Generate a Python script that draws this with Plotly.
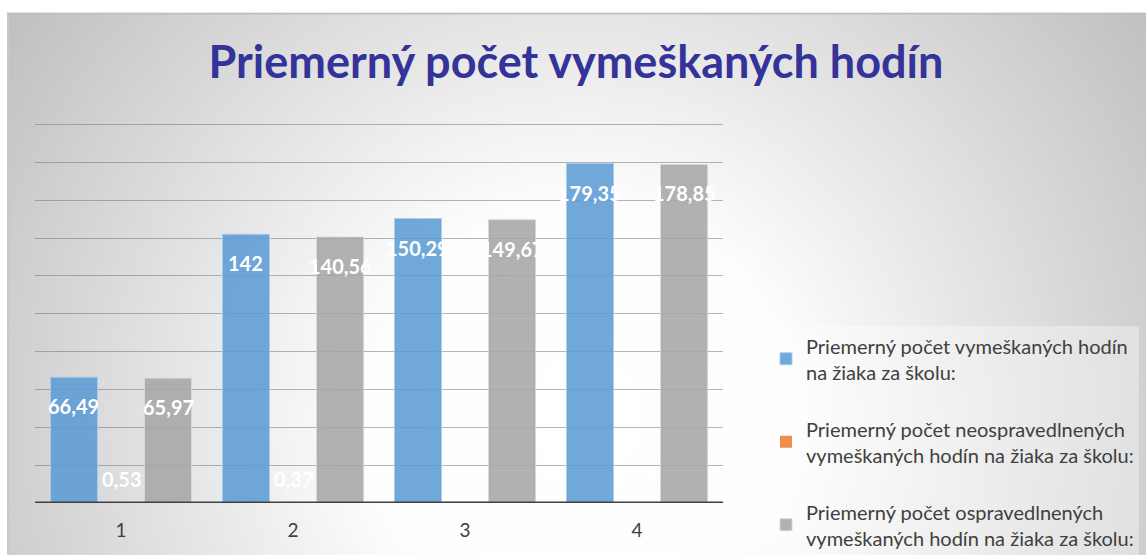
import base64
import plotly.graph_objects as go

categories = ["1", "2", "3", "4"]
series_names = [
    "Priemerný počet vymeškaných hodín<br>na žiaka za školu:",
    "Priemerný počet neospravedlnených<br>vymeškaných hodín na žiaka za školu:",
    "Priemerný počet ospravedlnených<br>vymeškaných hodín na žiaka za školu:",
]
total_hours = [66.49, 142, 150.29, 179.35]
unexcused_hours = [0.53, 0.37, 0.62, 0.52]
excused_hours = [65.97, 140.56, 149.67, 178.85]
y_ticks = [0, 20, 40, 60, 80, 100, 120, 140, 160, 180, 200]

FONT = "Lato"
W, H = 1146, 555
YMAX = 205
L, R, B = 35, 423, 52
ph = 379 * YMAX / 200
T = H - B - ph
pw = W - L - R
BARGAP = 0.18
bar_px = pw / len(categories) * (1 - BARGAP) / 3

def fmt(v):
    s = f"{v:.2f}".rstrip("0").rstrip(".")
    return s.replace(".", ",")

# background radial gradient (svg data uri)
bx0, by0 = 7, 12
bw, bh = W - bx0, H - by0
svg = f'''<svg xmlns="http://www.w3.org/2000/svg" width="{bw}" height="{bh}" viewBox="0 0 {bw} {bh}" preserveAspectRatio="none">
<defs><radialGradient id="g" gradientUnits="userSpaceOnUse" cx="{580-bx0}" cy="{420-by0}" r="720">
<stop offset="0" stop-color="#ffffff"/><stop offset="0.3" stop-color="#fdfdfd"/><stop offset="1" stop-color="#bdbdbd"/>
</radialGradient></defs>
<rect x="0" y="0" width="{bw}" height="{bh}" fill="url(#g)"/>
<line x1="0" y1="1" x2="{bw}" y2="1" stroke="#bfbfbf" stroke-width="2"/>
<line x1="1" y1="0" x2="1" y2="{bh}" stroke="#c8c8c8" stroke-width="2"/>
</svg>'''
uri = "data:image/svg+xml;base64," + base64.b64encode(svg.encode()).decode()

fig = go.Figure()
colors = ["rgba(91,155,213,0.87)", "rgba(237,125,49,0.87)", "rgba(165,165,165,0.87)"]
edges = ["rgba(170,205,235,0.9)", "rgba(237,125,49,0)", "rgba(215,215,215,0.9)"]
edge_w = [1, 0, 1]
label_shift = [-29, 23, -29]
data = [total_hours, unexcused_hours, excused_hours]
annotations = []
for i, (name, vals) in enumerate(zip(series_names, data)):
    fig.add_trace(go.Bar(
        x=categories, y=vals, name=name,
        marker=dict(color=colors[i], line=dict(color=edges[i], width=edge_w[i])),
        legendgroup=f"g{i}",
    ))
    for j, v in enumerate(vals):
        annotations.append(dict(
            x=j, y=v, xref="x", yref="y", text=fmt(v), showarrow=False,
            xshift=(i - 1) * bar_px, yshift=label_shift[i],
            font=dict(family=FONT, size=20, color="white", weight="bold"),
            xanchor="center", yanchor="middle",
        ))

fig.update_layout(
    width=W, height=H,
    margin=dict(l=L, r=R, t=T, b=B, autoexpand=False),
    paper_bgcolor="white",
    plot_bgcolor="rgba(0,0,0,0)",
    barmode="group",
    bargap=BARGAP,
    bargroupgap=0,
    title=dict(
        text="<b>Priemerný počet vymeškaných hodín</b>",
        font=dict(family=FONT, size=45, color="#333399"),
        x=576 / W, xanchor="center",
        y=1 - 62 / H, yanchor="middle", yref="container",
    ),
    font=dict(family=FONT, color="#404040"),
    showlegend=True,
    legend=dict(
        x=(766 - L) / pw, y=(T + ph - 326) / ph, xanchor="left", yanchor="top",
        bgcolor="rgba(255,255,255,0.35)",
        font=dict(family=FONT, size=20, color="#404040"),
        tracegroupgap=28,
        traceorder="grouped",
        itemwidth=30,
    ),
    annotations=annotations,
    shapes=[dict(
        type="line", xref="paper", x0=0, x1=1, yref="y", y0=0, y1=0,
        line=dict(color="#404040", width=3), layer="above",
    )],
    images=[dict(
        source=uri, xref="paper", yref="paper",
        x=(bx0 - L) / pw, y=(T + ph - by0) / ph,
        sizex=bw / pw, sizey=bh / ph,
        xanchor="left", yanchor="top", sizing="stretch", layer="below",
    )],
)
fig.update_xaxes(
    range=[-0.5, 3.5],
    showgrid=False, showline=False,
    ticks="", tickfont=dict(family=FONT, size=19, color="#404040"),
    ticklabelstandoff=14,
)
fig.update_yaxes(
    range=[0, YMAX], tickvals=y_ticks, showticklabels=False,
    showgrid=True, gridcolor="rgba(120,120,120,0.55)", gridwidth=1,
    zeroline=False, showline=False,
)
fig.write_html("out.html", post_script="document.body.style.margin='0';",
               config={"displayModeBar": False})
